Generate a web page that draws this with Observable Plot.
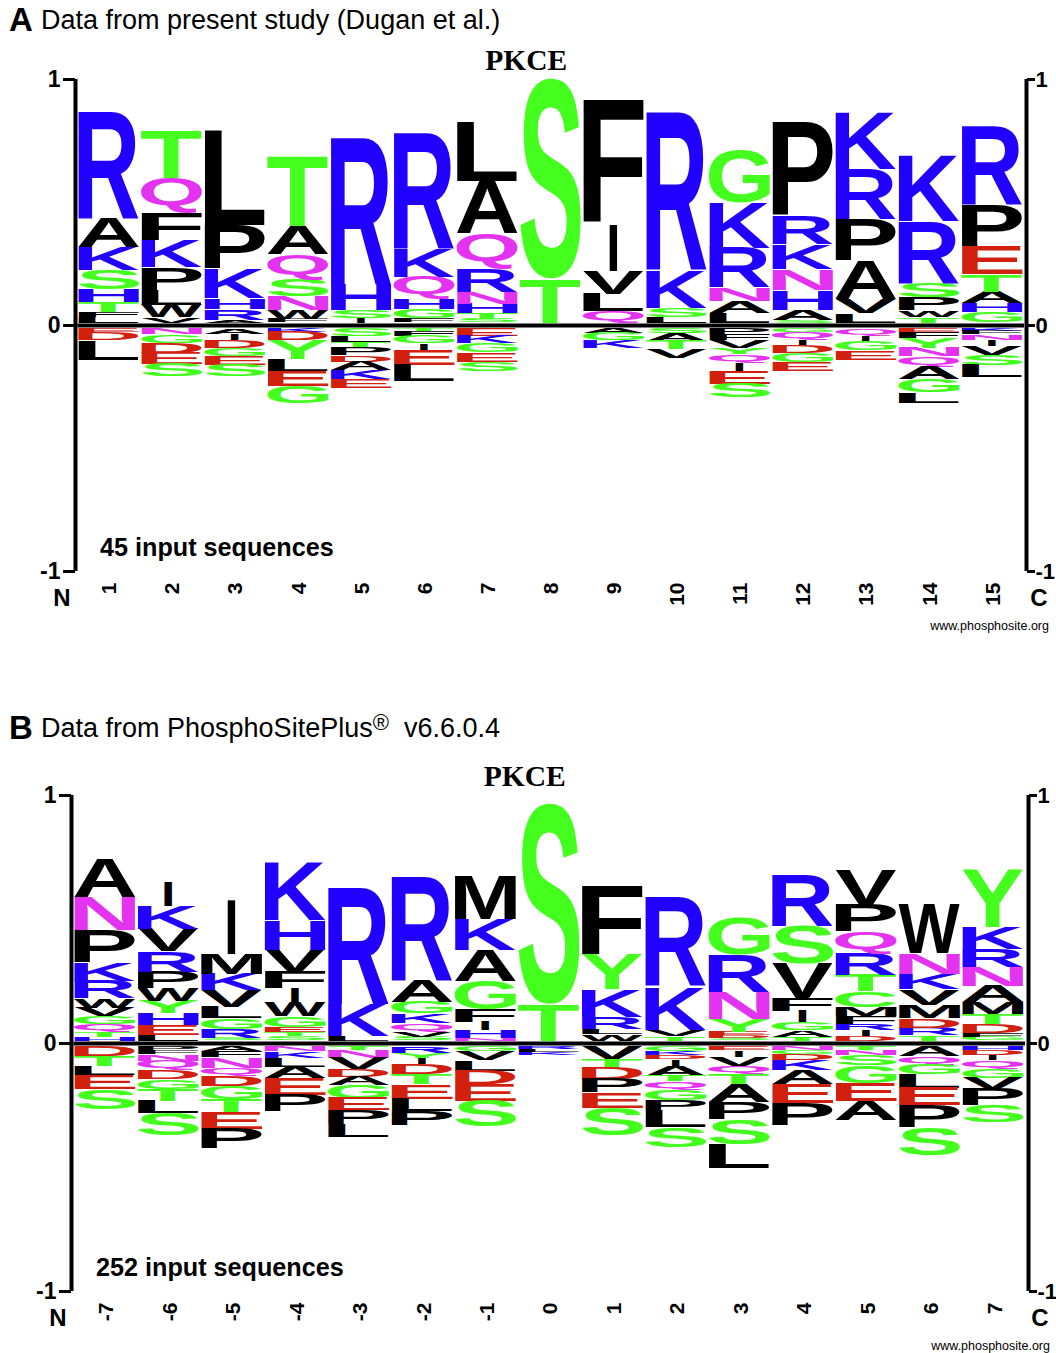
<!DOCTYPE html>
<html>
<head>
<meta charset="utf-8">
<script src="https://cdn.jsdelivr.net/npm/d3@7"></script>
<script src="https://cdn.jsdelivr.net/npm/@observablehq/plot@0.6"></script>
<style>
html,body{margin:0;padding:0;background:#fff}
#page{position:relative;width:1056px;height:1353px;overflow:hidden;font-family:"Liberation Sans",sans-serif;color:#000}
.head{position:absolute;left:9px;white-space:pre;font-size:27px;line-height:30px}
.head b{font-size:33px;display:inline-block;width:32px;vertical-align:-2px}
.head sup{font-size:22px;line-height:0;vertical-align:7px}
.panel{position:absolute;left:0}
.panel svg{display:block;overflow:visible}
</style>
</head>
<body>
<div id="page">
  <div class="head" style="top:5px"><b>A</b>Data from present study (Dugan et al.)</div>
  <div class="panel" id="panelA" style="top:40px"></div>
  <div class="head" style="top:713px"><b>B</b>Data from PhosphoSitePlus<sup>®</sup>  v6.6.0.4</div>
  <div class="panel" id="panelB" style="top:750px"></div>
</div>
<script>
const aminoAcids = ["R","K","H","S","T","G","Y","C","Q","N","D","E","A","V","L","I","P","W","F","M"];
const aminoColors = ["#2200ff","#2200ff","#2200ff","#44ff1e","#44ff1e","#44ff1e","#44ff1e","#44ff1e","#e433f0","#e433f0","#d2200f","#d2200f","#000","#000","#000","#000","#000","#000","#000","#000"];

const positionsA = [1,2,3,4,5,6,7,8,9,10,11,12,13,14,15];
const upLettersA = ["RAKSHTFL","TQFKPLWV","LPKHRA","TAQSNWF","RHSI","RKQHGF","LAQRNHTS","ST","FIVLQ","RKSL","GKRNAL","PRKNHAS","KRPAVL","KRSPWT","RPETAHG"];
const upValuesA = [
  [.431,.119,.093,.079,.054,.039,.020,.023],
  [.194,.141,.112,.111,.091,.060,.051,.022],
  [.386,.178,.122,.043,.043,.012],
  [.285,.115,.104,.068,.056,.035,.014],
  [.595,.106,.030,.020],
  [.470,.115,.091,.041,.038,.016],
  [.237,.214,.145,.091,.049,.039,.024,.014],
  [.813,.180],
  [.504,.190,.095,.070,.045],
  [.641,.153,.038,.023],
  [.213,.187,.159,.054,.049,.040],
  [.379,.115,.102,.084,.081,.042,.010],
  [.234,.203,.169,.156,.058,.037],
  [.268,.251,.057,.054,.027,.023],
  [.317,.169,.112,.070,.047,.038,.041]
];
const downLettersA = ["EDL","NGDES","AIDGES","KDYLEG","SLTPDAKE","TFGIEL","EKGES","","AGK","SATV","PFVYQIES","GQIDGE","QIGE","EFYNQAGL","KFNIVSL"];
const downValuesA = [
  [.016,.031,.080],
  [.024,.034,.041,.046,.051],
  [.022,.026,.031,.033,.038,.045],
  [.014,.034,.076,.047,.064,.070],
  [.030,.027,.020,.030,.028,.034,.037,.035],
  [.012,.018,.031,.027,.060,.066],
  [.030,.030,.038,.038,.039],
  [],
  [.019,.030,.031],
  [.019,.031,.034,.038],
  [.024,.024,.033,.024,.036,.030,.053,.056],
  [.015,.030,.025,.030,.038,.036],
  [.027,.027,.036,.038],
  [.014,.027,.039,.034,.043,.050,.054,.043],
  [.009,.014,.022,.027,.035,.041,.049]
];

const positionsB = [-7,-6,-5,-4,-3,-2,-1,0,1,2,3,4,5,6,7];
const upLettersB = ["ANPKRWVGQTH","IKVRPWYHEL","IMKVLGRS","KHVFIWGETS","RKL","RAGKQVS","MKAGFIHN","ST","FYKRLW","RKVT","GRNYEDS","RSVFIGAT","VPQRTCMFRID","WNKVMDRT","YKRNAMTDFG"];
const upValuesB = [
  [.156,.134,.130,.074,.070,.038,.034,.031,.034,.020,.013],
  [.098,.094,.090,.083,.065,.050,.051,.047,.040,.023],
  [.222,.081,.067,.065,.046,.044,.036,.011],
  [.235,.121,.090,.065,.056,.058,.044,.019,.017,.017],
  [.472,.129,.019],
  [.419,.087,.047,.038,.036,.022,.013],
  [.175,.125,.124,.114,.051,.034,.030,.011],
  [.809,.148],
  [.277,.140,.112,.047,.020,.027],
  [.356,.175,.027,.017],
  [.151,.151,.112,.050,.013,.011,.011],
  [.206,.151,.137,.054,.044,.031,.027,.016],
  [.141,.108,.090,.085,.067,.063,.038,.030,.024,.024,.019],
  [.196,.081,.063,.063,.054,.038,.030,.022],
  [.231,.087,.071,.077,.067,.047,.040,.038,.016,.013]
];
const downLettersB = ["DTLES","PFNQDGTLS","AFNQDGTEP","NKLAEP","TNVDAGEPL","RYIDTELP","GVLDES","RLK","VTDPES","GKDIATQGPLS","EIVQTAPSL","NGDKAEP","TNSGEA","AQGLEPS","HDIQGVPS"];
const downValuesB = [
  [.040,.039,.038,.054,.081],
  [.015,.015,.027,.038,.038,.039,.047,.050,.091],
  [.020,.024,.043,.031,.043,.050,.054,.066,.081],
  [.020,.027,.036,.045,.066,.067],
  [.016,.030,.044,.032,.035,.050,.051,.057,.051],
  [.027,.019,.024,.040,.043,.058,.050,.058],
  [.019,.035,.043,.054,.067,.104],
  [.012,.012,.009],
  [.049,.036,.045,.056,.063,.111],
  [.020,.016,.016,.027,.039,.023,.034,.043,.040,.067,.081],
  [.015,.028,.034,.034,.040,.074,.070,.098,.098],
  [.016,.013,.024,.043,.057,.075,.090],
  [.013,.020,.043,.071,.074,.077],
  [.040,.032,.040,.054,.071,.090,.112],
  [.016,.018,.020,.036,.036,.044,.067,.067]
];

const stackGap = 0.012;

function buildRows(positions, upL, upV, downL, downV) {
  const rows = [];
  positions.forEach((pos, c) => {
    let base = stackGap;
    for (let i = upV[c].length - 1; i >= 0; i--) {
      rows.push({pos, letter: upL[c][i], y1: base, y2: base + upV[c][i]});
      base += upV[c][i];
    }
    base = -stackGap;
    for (let i = 0; i < downV[c].length; i++) {
      rows.push({pos, letter: downL[c][i], y1: base - downV[c][i], y2: base});
      base -= downV[c][i];
    }
  });
  return rows;
}

const logoFont = '"Liberation Sans"';
const ctx2d = document.createElement("canvas").getContext("2d");
ctx2d.font = `bold 100px ${logoFont}`;
const inkBox = new Map();
function ink(letter) {
  if (!inkBox.has(letter)) {
    const m = ctx2d.measureText(letter);
    inkBox.set(letter, {l: m.actualBoundingBoxLeft, r: m.actualBoundingBoxRight, a: m.actualBoundingBoxAscent, d: m.actualBoundingBoxDescent});
  }
  return inkBox.get(letter);
}

// Stretches each letter so its ink fills the stacked extent on the y scale.
function stretchLetters(rows) {
  return function(index, scales, values, dimensions, context, next) {
    const g = next(index, scales, values, dimensions, context);
    const colW = Math.abs(scales.x(1) - scales.x(0));
    const texts = g.querySelectorAll("text");
    Array.from(index).forEach((i, k) => {
      const r = rows[i], t = texts[k], b = ink(r.letter);
      const w = colW * (r.letter === "I" ? 0.13 : 0.97);
      const h = scales.y(r.y1) - scales.y(r.y2);
      const sx = w / (b.l + b.r), sy = h / (b.a + b.d);
      const x0 = scales.x(r.pos) - w / 2 + b.l * sx;
      const y0 = scales.y(r.y1) - b.d * sy;
      t.setAttribute("x", 0); t.setAttribute("y", 0); t.removeAttribute("dy");
      t.setAttribute("transform", `translate(${x0},${y0}) scale(${sx},${sy})`);
    });
    return g;
  };
}

function logo(o) {
  const rows = buildRows(o.positions, o.upL, o.upV, o.downL, o.downV);
  const p0 = o.positions[0], p1 = o.positions[o.positions.length - 1];
  const labelFont = {fontFamily: logoFont, fontWeight: "bold"};
  return Plot.plot({
    width: 1056, height: o.height,
    marginTop: o.marginTop, marginBottom: o.marginBottom, marginLeft: o.marginLeft, marginRight: o.marginRight,
    style: {fontFamily: logoFont, background: "white", overflow: "visible", color: "#000"},
    x: {domain: [p0 - 0.5, p1 + 0.5], axis: null},
    y: {domain: [-1, 1], axis: null},
    color: {domain: aminoAcids, range: aminoColors},
    marks: [
      Plot.text(rows, {x: "pos", y: d => (d.y1 + d.y2) / 2, text: "letter", fill: "letter", fontSize: 100, fontWeight: "bold", fontFamily: logoFont, textAnchor: "start", lineAnchor: "bottom", render: stretchLetters(rows)}),
      Plot.ruleY([0], {strokeWidth: 4, stroke: "#000", dx: 1}),
      Plot.ruleX([p0 - 0.5], {y1: -1, y2: 1, strokeWidth: 4, stroke: "#000", dx: -1.5}),
      Plot.ruleX([p1 + 0.5], {y1: -1, y2: 1, strokeWidth: 4, stroke: "#000", dx: o.rightDx}),
      Plot.axisY({anchor: "left", ticks: [-1, 0, 1], tickFormat: String, tickSize: 12, tickPadding: 3, strokeWidth: 3, stroke: "#000", fontSize: 23, ...labelFont, label: null, dx: -1.5}),
      Plot.axisY({anchor: "right", ticks: [-1, 0, 1], tickFormat: String, tickSize: 8, tickPadding: 1, strokeWidth: 3, stroke: "#000", fontSize: 22, ...labelFont, label: null, dx: o.rightDx}),
      Plot.axisX({ticks: o.positions, tickFormat: String, tickRotate: -90, tickSize: 0, tickPadding: 11, fontSize: 21, ...labelFont, label: null, dx: o.tickDx}),
      Plot.text(["PKCE"], {frameAnchor: "top", lineAnchor: "middle", dx: -24, dy: -19, fontSize: 29.5, fontWeight: "bold", fontFamily: "Liberation Serif"}),
      Plot.text([o.count], {frameAnchor: "bottom-left", textAnchor: "start", lineAnchor: "middle", dx: 23, dy: -24, fontSize: 25.2, ...labelFont}),
      Plot.text(["N"], {frameAnchor: "bottom-left", textAnchor: "middle", lineAnchor: "middle", dx: -15, dy: 27, fontSize: 24, ...labelFont}),
      Plot.text(["C"], {frameAnchor: "bottom-right", textAnchor: "middle", lineAnchor: "middle", dx: 15.5, dy: 27, fontSize: 24, ...labelFont}),
      Plot.text(["www.phosphosite.org"], {frameAnchor: "bottom-right", textAnchor: "end", lineAnchor: "middle", dx: 25.5, dy: 54, fontSize: 12.5, fontFamily: logoFont})
    ]
  });
}

document.getElementById("panelA").append(logo({
  positions: positionsA, upL: upLettersA, upV: upValuesA, downL: downLettersA, downV: downValuesA,
  height: 610, marginTop: 39, marginBottom: 79, marginLeft: 76.5, marginRight: 33, rightDx: 3, tickDx: 1,
  count: "45 input sequences"
}));
document.getElementById("panelB").append(logo({
  positions: positionsB, upL: upLettersB, upV: upValuesB, downL: downLettersB, downV: downValuesB,
  height: 603, marginTop: 45, marginBottom: 62, marginLeft: 72.5, marginRight: 32, rightDx: 4, tickDx: 2,
  count: "252 input sequences"
}));
</script>
</body>
</html>
